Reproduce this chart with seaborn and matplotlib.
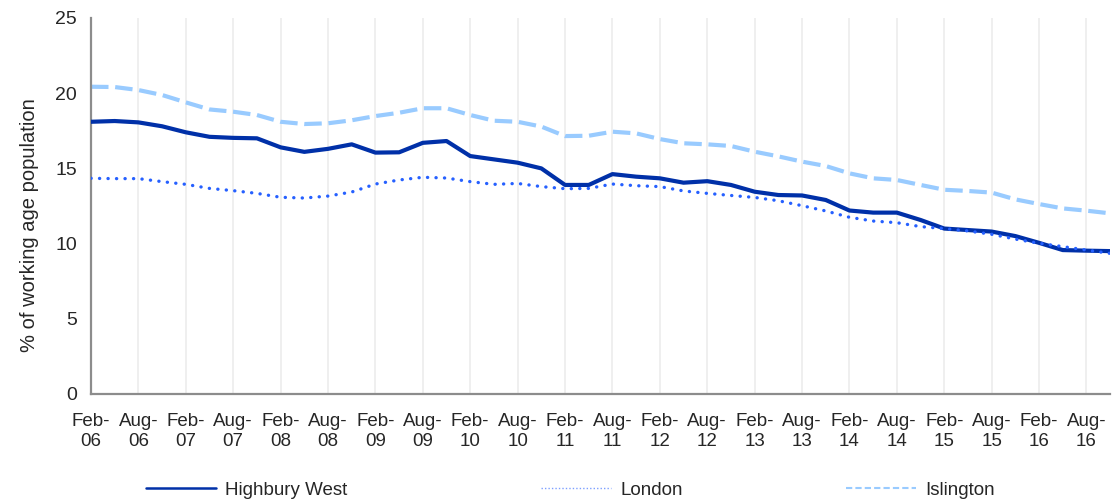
import matplotlib
matplotlib.use("Agg")
import matplotlib.pyplot as plt
from matplotlib.lines import Line2D
import pandas as pd
import seaborn as sns

# ---------------------------------------------------------------------------
# Datos (trimestrales, Feb-06 a Nov-16)
# ---------------------------------------------------------------------------
quarters = [f"{m}-{y:02d}" for y in range(6, 17) for m in ["Feb", "May", "Aug", "Nov"]]

highbury_west = [18.1, 18.15, 18.06, 17.8, 17.4, 17.1, 17.03, 17.0,
                 16.4, 16.1, 16.3, 16.6, 16.05, 16.07, 16.7, 16.82,
                 15.82, 15.6, 15.38, 15.0, 13.9, 13.9, 14.62, 14.45,
                 14.34, 14.05, 14.15, 13.9, 13.45, 13.23, 13.2, 12.9,
                 12.2, 12.06, 12.06, 11.57, 11.0, 10.9, 10.8, 10.5,
                 10.05, 9.57, 9.53, 9.5]

london = [14.34, 14.32, 14.32, 14.12, 13.94, 13.67, 13.52, 13.34,
          13.08, 13.03, 13.16, 13.43, 13.96, 14.23, 14.41, 14.36,
          14.12, 13.94, 14.0, 13.79, 13.65, 13.67, 13.96, 13.85,
          13.79, 13.5, 13.34, 13.2, 13.07, 12.85, 12.52, 12.17,
          11.75, 11.5, 11.39, 11.13, 11.0, 10.84, 10.62, 10.3,
          10.02, 9.8, 9.57, 9.35]

islington = [20.43, 20.41, 20.21, 19.88, 19.39, 18.92, 18.77, 18.55,
             18.1, 17.95, 18.0, 18.2, 18.48, 18.7, 19.0, 19.0,
             18.55, 18.17, 18.1, 17.78, 17.15, 17.17, 17.44, 17.33,
             16.95, 16.67, 16.6, 16.49, 16.11, 15.8, 15.45, 15.16,
             14.67, 14.34, 14.23, 13.9, 13.58, 13.5, 13.39, 12.94,
             12.63, 12.34, 12.19, 12.01]

tick_labels = [f"{m}-\n{y:02d}" for y in range(6, 17) for m in ["Feb", "Aug"]]

COL_HW = "#0030a8"
COL_LON = "#2660ff"
COL_ISL = "#99cbff"

df = pd.DataFrame({
    "idx": range(len(quarters)),
    "quarter": quarters,
    "Highbury West": highbury_west,
    "London": london,
    "Islington": islington,
})

# ---------------------------------------------------------------------------
# Figura
# ---------------------------------------------------------------------------
sns.set_style("white")
plt.rcParams["font.family"] = ["Liberation Sans", "DejaVu Sans"]

fig = plt.figure(figsize=(11.18, 5.0), dpi=100)
ax = fig.add_axes([0.0814, 0.212, 0.9116, 0.752])

# rejilla vertical cada semestre
for t in range(0, len(quarters), 2):
    ax.axvline(t, color="#eeeeee", lw=1.3, zorder=0)

sns.lineplot(data=df, x="idx", y="Islington", ax=ax, color=COL_ISL,
             linewidth=3.0, linestyle=(0, (4.2, 1.6)), zorder=2)
sns.lineplot(data=df, x="idx", y="Highbury West", ax=ax, color=COL_HW,
             linewidth=3.0, zorder=3)
sns.lineplot(data=df, x="idx", y="London", ax=ax, color=COL_LON,
             linewidth=2.4, linestyle=(0, (0.05, 2.5)),
             dash_capstyle="round", zorder=4)

ax.set_xlim(0, len(quarters) - 1)
ax.set_ylim(0, 25)
ax.set_yticks(range(0, 26, 5))
ax.set_xticks(range(0, len(quarters), 2))
ax.set_xticklabels(tick_labels, fontsize=13.5, linespacing=1.2)
ax.tick_params(axis="y", labelsize=14)
ax.tick_params(axis="both", direction="out", length=5, width=1.3,
               color="#888888", pad=5)
ax.tick_params(axis="x", pad=9)
ax.set_xlabel("")
ax.set_ylabel("% of working age population", fontsize=14.5)
ax.yaxis.set_label_coords(-0.051, 0.45)

for side in ["top", "right"]:
    ax.spines[side].set_visible(False)
for side in ["left", "bottom"]:
    ax.spines[side].set_color("#8c8c8c")
    ax.spines[side].set_linewidth(1.6)

# leyenda inferior (tres entradas separadas como en el original)
handles = [
    (Line2D([], [], color=COL_HW, lw=1.8), "Highbury West", 0.1243),
    (Line2D([], [], color=COL_LON, lw=1.0, linestyle=(0, (1, 1.5)), alpha=0.6), "London", 0.4776),
    (Line2D([], [], color=COL_ISL, lw=1.5, linestyle=(0, (3, 1.5))), "Islington", 0.7504),
]
for h, lab, xpos in handles:
    fig.legend([h], [lab], loc="center left", bbox_to_anchor=(xpos, 0.02),
               frameon=False, fontsize=13.5, handlelength=3.7,
               handletextpad=0.5, borderaxespad=0)

plt.savefig("out.png", dpi=100)
plt.close()
